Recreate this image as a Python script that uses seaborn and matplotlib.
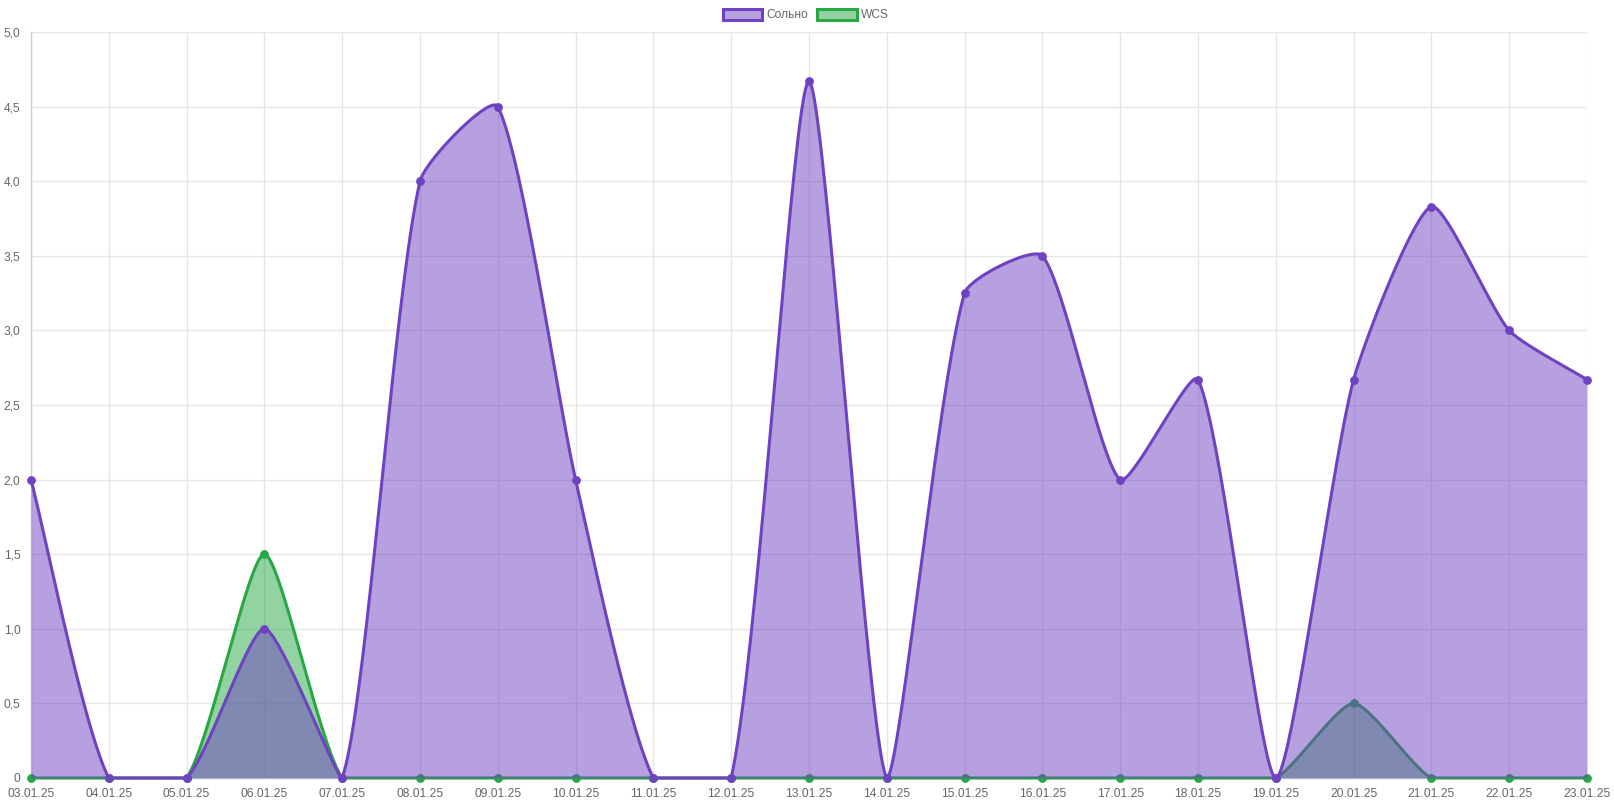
import numpy as np
import pandas as pd
import matplotlib
matplotlib.use('Agg')
import matplotlib.pyplot as plt
import seaborn as sns
from matplotlib.patches import Patch
from matplotlib.ticker import FuncFormatter

# Data
dates = ['03.01.25', '04.01.25', '05.01.25', '06.01.25', '07.01.25', '08.01.25', '09.01.25',
         '10.01.25', '11.01.25', '12.01.25', '13.01.25', '14.01.25', '15.01.25', '16.01.25',
         '17.01.25', '18.01.25', '19.01.25', '20.01.25', '21.01.25', '22.01.25', '23.01.25']
solo = [2.0, 0, 0, 1.0, 0, 4.0, 4.5, 2.0, 0, 0, 4.67, 0, 3.25, 3.5, 2.0, 2.67, 0, 2.67, 3.83, 3.0, 2.67]
wcs = [0, 0, 0, 1.5, 0, 0, 0, 0, 0, 0, 0, 0, 0, 0, 0, 0, 0, 0.5, 0, 0, 0]

PURPLE = '#6f42c1'
GREEN = '#28a745'
TEXT = '#666666'
GRID = '#e6e6e6'
YMAX = 5


def spline_curve(vals, sx, sy, tension=0.2, n=40):
    # tension-based bezier like chart.js lines, control points capped to the plot area
    P = np.column_stack([np.arange(len(vals)) * sx, np.asarray(vals, float) * sy])
    k = len(P)
    cp_prev, cp_next = P.copy(), P.copy()
    for i in range(k):
        prev = P[i - 1] if i > 0 else P[i]
        nxt = P[i + 1] if i < k - 1 else P[i]
        d01 = np.hypot(*(P[i] - prev))
        d12 = np.hypot(*(nxt - P[i]))
        tot = d01 + d12
        s01 = d01 / tot if tot else 0
        s12 = d12 / tot if tot else 0
        cp_prev[i] = P[i] - tension * s01 * (nxt - prev)
        cp_next[i] = P[i] + tension * s12 * (nxt - prev)
    for cp in (cp_prev, cp_next):
        cp[:, 0] = np.clip(cp[:, 0], 0, (k - 1) * sx)
        cp[:, 1] = np.clip(cp[:, 1], 0, YMAX * sy)
    out = []
    for i in range(k - 1):
        t = np.linspace(0, 1, n, endpoint=(i == k - 2))[:, None]
        b = ((1 - t) ** 3 * P[i] + 3 * (1 - t) ** 2 * t * cp_next[i]
             + 3 * (1 - t) * t ** 2 * cp_prev[i + 1] + t ** 3 * P[i + 1])
        out.append(b)
    out = np.vstack(out)
    return out[:, 0] / sx, out[:, 1] / sy


sns.set_style('white')
plt.rcParams['font.family'] = ['Liberation Sans', 'DejaVu Sans']

fig = plt.figure(figsize=(16.14, 8.07), dpi=100)
ax = fig.add_axes([31 / 1614, 1 - 778 / 807, (1587 - 31) / 1614, (778 - 32) / 807])

x_idx = np.arange(len(dates))
ax.set_xlim(0, len(dates) - 1)
ax.set_ylim(0, YMAX)
bbox = ax.get_window_extent()
sx = bbox.width / (len(dates) - 1)
sy = bbox.height / YMAX

z = 2
for vals, col in [(wcs, GREEN), (solo, PURPLE)]:
    cx, cy = spline_curve(vals, sx, sy)
    ax.fill_between(cx, 0, cy, color=col, alpha=0.5, linewidth=0, zorder=z)
    sns.lineplot(x=cx, y=cy, color=col, linewidth=2.2, ax=ax, zorder=z + 1, sort=False)
    ax.lines[-1].set_clip_on(False)
    sns.scatterplot(x=x_idx, y=vals, color=col, s=40, linewidth=0, ax=ax, zorder=z + 2)
    ax.collections[-1].set_clip_on(False)
    z += 3

ax.set_xlim(0, len(dates) - 1)
ax.set_ylim(0, YMAX)
ax.set_xticks(x_idx)
ax.set_xticklabels(dates)
ax.set_yticks(np.arange(0, YMAX + 0.01, 0.5))
ax.yaxis.set_major_formatter(FuncFormatter(lambda v, p: '0' if v == 0 else f'{v:.1f}'.replace('.', ',')))

ax.grid(True, color=GRID, linewidth=1)
ax.set_axisbelow(True)
ax.tick_params(axis='both', length=6, width=1, color=GRID, labelsize=8.64, labelcolor=TEXT, pad=1.5)
for side in ['top', 'right']:
    ax.spines[side].set_visible(False)
for side in ['left', 'bottom']:
    ax.spines[side].set_color('#d0d0d0')
    ax.spines[side].set_linewidth(1)
ax.set_xlabel('')
ax.set_ylabel('')

handles = [Patch(facecolor=PURPLE + '80', edgecolor=PURPLE, linewidth=2.2, label='Сольно'),
           Patch(facecolor=GREEN + '80', edgecolor=GREEN, linewidth=2.2, label='WCS')]
fig.legend(handles=handles, loc='center', bbox_to_anchor=(806 / 1614, 1 - 15 / 807), ncol=2,
           frameon=False, fontsize=8.64, labelcolor=TEXT, handlelength=3.3, handleheight=1.0,
           handletextpad=0.35, columnspacing=0.75)

fig.savefig('out.png', dpi=100)
